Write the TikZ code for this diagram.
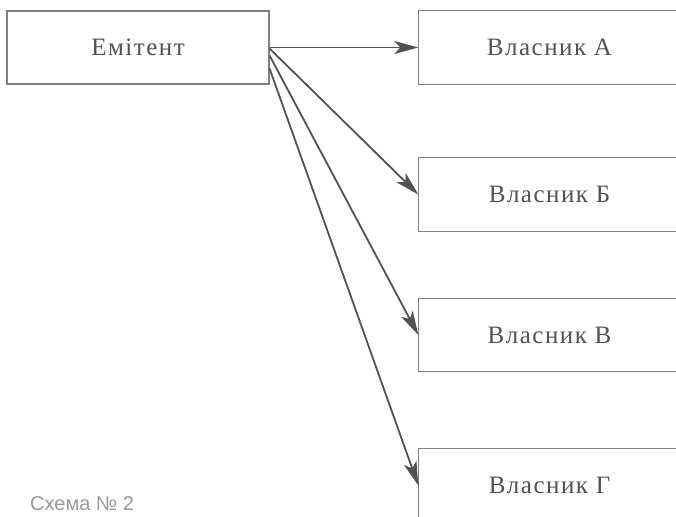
\documentclass[tikz,border=0pt]{standalone}
\usepackage{fontspec}
\setmainfont{Liberation Serif}
\newfontfamily\captionfont{Liberation Sans}
\usetikzlibrary{arrows.meta}
\begin{document}
\begin{tikzpicture}[x=1pt,y=-1pt,
  label text/.style={minimum width=262pt, minimum height=73pt, inner sep=0pt, text=black!68,
    font=\addfontfeatures{LetterSpace=6}\fontsize{25}{29}\selectfont},
  box/.style={label text, draw=black!50, line width=1.1pt},
  frame/.style={draw=black!50, line width=1.1pt},
  link/.style={draw=black!68, line width=1.8pt,
    -{Stealth[length=24pt,width=13pt,inset=6pt]}}]
  \useasboundingbox (0,0) rectangle (676,516);
  \clip (0,0) rectangle (676,516);
  \fill[white] (0,0) rectangle (676,516);

  % issuer
  \node[box] (em) at (138,47.5) {Емітент};

  % the four owners; their frames run on past the right edge
  \node[label text] (va) at (549.5,47.5) {Власник А};
  \node[label text] (vb) at (549.5,194.5) {Власник Б};
  \node[label text] (vv) at (549.5,335) {Власник В};
  \node[label text] (vg) at (549.5,485.5) {Власник Г};
  \foreach \n in {va,vb,vv,vg}
    \draw[frame] ([xshift=30pt]\n.north east) -- (\n.north west) -- (\n.south west)
      -- ([xshift=30pt]\n.south east);

  % start points fanned along the issuer's right side
  \coordinate (s1) at (em.east);
  \coordinate (s2) at ([yshift=-1pt]em.east);
  \coordinate (s3) at ([yshift=-8pt]em.east);
  \coordinate (s4) at ([yshift=-21pt]em.east);

  \draw[link] (s1) -- (va.west);
  \draw[link] (s2) -- (vb.west);
  \draw[link] (s3) -- (vv.west);
  \draw[link] (s4) -- (vg.west);

  \node[anchor=base west, inner sep=0pt, text=black!40,
    font=\captionfont\fontsize{20}{24}\selectfont] (cap) at (30,510) {Схема №~2};
\end{tikzpicture}
\end{document}
